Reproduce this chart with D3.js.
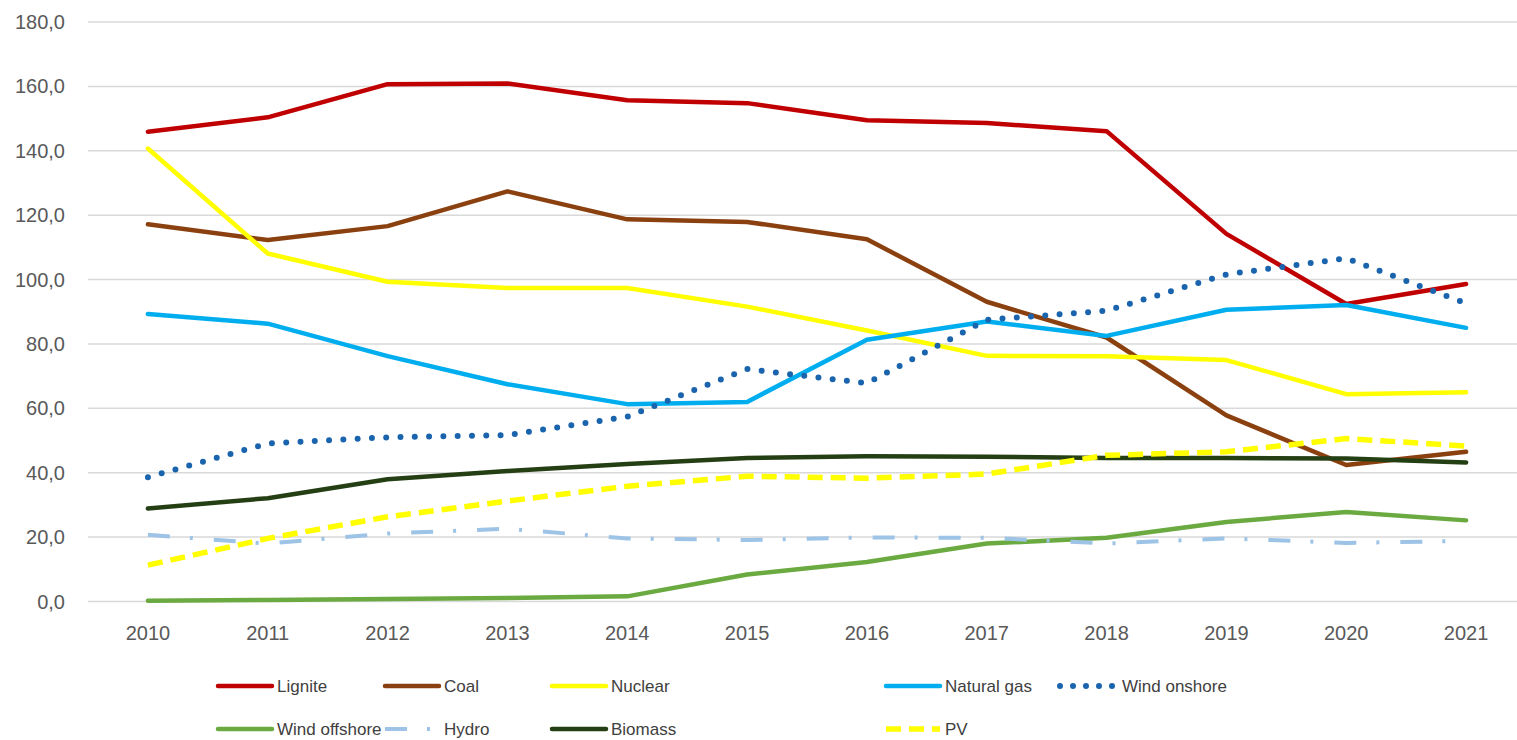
<!DOCTYPE html>
<html>
<head>
<meta charset="utf-8">
<script src="https://cdn.jsdelivr.net/npm/d3@7"></script>
<style>
  body { margin: 0; background: #fff; }
  svg { display: block; font-family: "Liberation Sans", Arial, sans-serif; }
  .grid line { stroke: #d9d9d9; stroke-width: 1.5; }
  .tick-label { fill: #595959; font-size: 20px; }
  .legend-text { fill: #404040; font-size: 17px; }
</style>
</head>
<body>
<svg id="chart" width="1517" height="740"></svg>
<script>
// data
const years = ["2010","2011","2012","2013","2014","2015","2016","2017","2018","2019","2020","2021"]

const lignite      = [145.9, 150.4, 160.7, 160.9, 155.7, 154.8, 149.5, 148.6, 146.1, 114.2, 92.4, 98.6]
const coal         = [117.2, 112.3, 116.6, 127.4, 118.7, 117.9, 112.5, 93.1, 82.0, 57.8, 42.4, 46.5]
const nuclear      = [140.7, 108.1, 99.3, 97.4, 97.4, 91.6, 84.2, 76.3, 76.2, 75.0, 64.4, 65.0]
const naturalGas   = [89.3, 86.3, 76.2, 67.5, 61.3, 62.0, 81.3, 87.0, 82.5, 90.6, 92.1, 85.0]
const windOnshore  = [38.6, 49.1, 51.0, 51.7, 57.4, 72.2, 67.8, 87.5, 90.3, 101.6, 106.6, 92.6]
const windOffshore = [0.2, 0.5, 0.8, 1.1, 1.6, 8.4, 12.3, 18.0, 19.8, 24.7, 27.8, 25.2]
const hydro        = [20.7, 18.0, 21.1, 22.6, 19.6, 19.1, 19.9, 19.8, 18.0, 19.6, 18.2, 18.8]
const biomass      = [28.9, 32.1, 38.0, 40.5, 42.7, 44.6, 45.1, 45.0, 44.6, 44.6, 44.4, 43.2]
const pv           = [11.3, 19.6, 26.3, 31.2, 35.8, 38.9, 38.3, 39.6, 45.4, 46.5, 50.6, 48.3]

const yTicks = [0, 20, 40, 60, 80, 100, 120, 140, 160, 180]

const series = [
  {name: "Lignite", values: lignite, color: "#c00000", width: 4.5, dash: null, cap: "round"},
  {name: "Coal", values: coal, color: "#8b4010", width: 4.5, dash: null, cap: "round"},
  {name: "Nuclear", values: nuclear, color: "#ffff00", width: 4.5, dash: null, cap: "round"},
  {name: "Natural gas", values: naturalGas, color: "#00aeef", width: 4.5, dash: null, cap: "round"},
  {name: "Wind onshore", values: windOnshore, color: "#1a64ae", width: 6, dash: "0 14.3", cap: "round"},
  {name: "Wind offshore", values: windOffshore, color: "#6aaa40", width: 4.5, dash: null, cap: "round"},
  {name: "Hydro", values: hydro, color: "#9dc3e6", width: 4, dash: "22 20 3 21", cap: "butt"},
  {name: "Biomass", values: biomass, color: "#253f14", width: 4.5, dash: null, cap: "round"},
  {name: "PV", values: pv, color: "#ffff00", width: 5.5, dash: "15 8", cap: "butt"},
]

const svg = d3.select("#chart")

const x = d3.scaleBand().domain(years).range([88, 1526])
const y = d3.scaleLinear().domain([0, 180]).range([601.5, 22])
const cx = d => x(d) + x.bandwidth() / 2

// gridlines
svg.append("g").attr("class", "grid")
  .selectAll("line")
  .data(yTicks)
  .join("line")
  .attr("x1", 88)
  .attr("x2", 1526)
  .attr("y1", d => y(d))
  .attr("y2", d => y(d))

// y labels
svg.append("g")
  .selectAll("text")
  .data(yTicks)
  .join("text")
  .attr("class", "tick-label")
  .attr("x", 65)
  .attr("y", d => y(d))
  .attr("dy", "0.35em")
  .attr("text-anchor", "end")
  .text(d => d3.format(".1f")(d).replace(".", ","))

// x labels
svg.append("g")
  .selectAll("text")
  .data(years)
  .join("text")
  .attr("class", "tick-label")
  .attr("x", d => cx(d))
  .attr("y", 640)
  .attr("text-anchor", "middle")
  .text(d => d)

const line = d3.line()
  .x((d, i) => cx(years[i]))
  .y(d => y(d))

// draw order roughly like excel: last series on top
svg.append("g")
  .selectAll("path")
  .data(series)
  .join("path")
  .attr("d", d => line(d.values))
  .attr("fill", "none")
  .attr("stroke", d => d.color)
  .attr("stroke-width", d => d.width)
  .attr("stroke-linejoin", "round")
  .attr("stroke-linecap", d => d.cap)
  .attr("stroke-dasharray", d => d.dash)

// legend
const legendCols = [218, 385, 552, 886, 1060]
const legendRows = [686, 729]

const leg = svg.append("g")
  .selectAll("g")
  .data(series)
  .join("g")
  .attr("transform", (d, i) => `translate(${legendCols[i % 5]},${legendRows[Math.floor(i / 5)]})`)

leg.append("line")
  .attr("x1", 0)
  .attr("x2", 54)
  .attr("stroke", d => d.color)
  .attr("stroke-width", d => d.width)
  .attr("stroke-linecap", d => d.cap)
  .attr("stroke-dasharray", d => d.name == "Wind onshore" ? "0 13" : d.dash)

leg.append("text")
  .attr("class", "legend-text")
  .attr("x", d => d.name == "Wind onshore" ? 62 : 59)
  .attr("dy", "0.35em")
  .text(d => d.name)
</script>
</body>
</html>
